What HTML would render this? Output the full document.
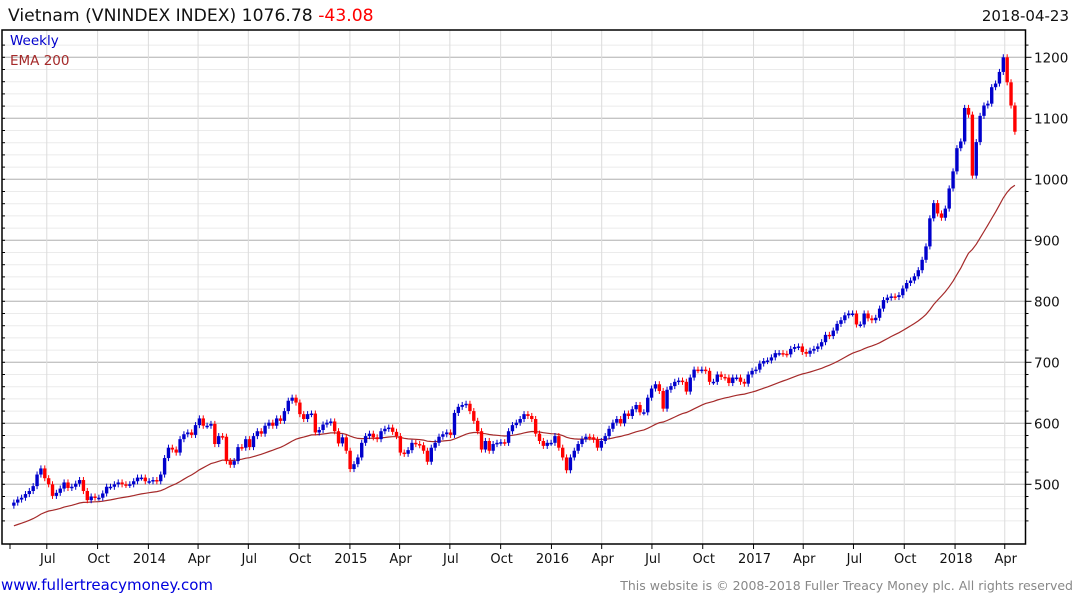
<!DOCTYPE html>
<html><head><meta charset="utf-8"><style>
html,body{margin:0;padding:0;background:#fff;}
svg{display:block;font-family:"DejaVu Sans","Liberation Sans",sans-serif;}
</style></head><body>
<svg id="chart" width="1075" height="600" viewBox="0 0 1075 600" xmlns="http://www.w3.org/2000/svg">
<text x="8" y="21" font-size="17.2" fill="#111">Vietnam (VNINDEX INDEX) 1076.78 <tspan fill="#ff0000">-43.08</tspan></text>
<text x="1069" y="21" font-size="15" fill="#111" text-anchor="end">2018-04-23</text>
<g id="grid"></g>
<g id="ema"></g>
<g id="candles"></g>
<g id="axes"></g>
<text x="10" y="45" font-size="13.5" fill="#0000cc">Weekly</text>
<text x="10" y="65" font-size="13.5" fill="#a52a2a">EMA 200</text>
<text x="1" y="590" font-size="15" fill="#0000dd">www.fullertreacymoney.com</text>
<text x="1073" y="590" font-size="12.5" fill="#888" text-anchor="end">This website is © 2008-2018 Fuller Treacy Money plc. All rights reserved</text>
</svg>
<script>
const closes = [470,475,478,484,489,497,516,526,510,500,481,486,493,503,494,496,501,507,489,474,480,478,478,485,496,496,500,503,500,499,500,505,511,511,505,505,507,505,516,543,560,557,552,574,582,585,581,597,608,596,596,599,566,579,578,538,532,538,561,560,574,561,579,587,583,596,601,596,608,604,620,637,642,634,615,607,615,616,585,589,598,601,603,587,567,577,555,525,533,544,
568,579,583,577,574,587,591,593,586,579,552,550,556,568,566,564,555,537,560,568,578,582,585,581,617,627,630,632,620,604,587,557,571,555,566,568,569,568,587,597,601,607,615,612,607,583,571,563,568,568,579,560,544,523,544,555,566,574,578,577,573,560,571,579,591,601,607,600,616,612,623,630,618,618,642,657,664,653,
624,655,661,668,670,668,652,675,688,687,688,686,668,668,680,676,675,666,675,675,668,665,680,686,688,698,702,703,708,715,715,714,713,722,725,726,717,714,719,722,726,733,745,743,752,763,769,777,780,780,762,762,780,772,769,773,788,802,806,808,807,810,821,830,834,
841,851,868,890,936,961,944,937,952,985,1013,1051,1062,1117,1106,1006,1061,1104,1121,1124,1151,1157,1176,1200,1159,1121,1078];
const yTicks = [500,600,700,800,900,1000,1100,1200];
const xTickLabels = ["Jul","Oct","2014","Apr","Jul","Oct","2015","Apr","Jul","Oct","2016","Apr","Jul","Oct","2017","Apr","Jul","Oct","2018","Apr"];
const xTickDates = ["2013-07-01","2013-10-01","2014-01-01","2014-04-01","2014-07-01","2014-10-01","2015-01-01","2015-04-01","2015-07-01","2015-10-01","2016-01-01","2016-04-01","2016-07-01","2016-10-01","2017-01-01","2017-04-01","2017-07-01","2017-10-01","2018-01-01","2018-04-01"];
const lastDate = "2018-04-23";
const emaSeed = 430;

const NS="http://www.w3.org/2000/svg";
const L=2, R=1025.5, T=30, B=544;
const D0=Date.parse("2013-04-29"), wk=3.865;
function xd(ms){return 10+(ms-D0)/86400000/7*wk;}
function y(v){return 179.3-(v-1000)*0.61;}
function mk(tag,attrs,parent){const e=document.createElementNS(NS,tag);for(const k in attrs)e.setAttribute(k,attrs[k]);parent.appendChild(e);return e;}
const grid=document.getElementById('grid'),axes=document.getElementById('axes'),cg=document.getElementById('candles'),eg=document.getElementById('ema');
for(let v=440;v<=1220;v+=20){
  const major=v%100===0;
  const ln=mk('line',{x1:L,x2:R,y1:y(v),y2:y(v),stroke:major?'#c4c4c4':'#ebebeb','stroke-width':major?1.3:1},grid);
  
  
}
xTickDates.forEach((d,i)=>{
  const x=xd(Date.parse(d))+2;
  const g=mk('line',{x1:x,x2:x,y1:T,y2:B,stroke:'#dcdcdc','stroke-width':1},grid);
  
  
  const t=mk('line',{x1:x,x2:x,y1:B,y2:B+5,stroke:'#000'},axes);
  
  
  const tx=mk('text',{x:x+1,y:563,'font-size':13,'text-anchor':'middle',fill:'#111'},axes);
  tx.textContent=xTickLabels[i];
  
  
});
const t0=mk('line',{x1:10,x2:10,y1:B,y2:B+5,stroke:'#000'},axes);


for(let v=440;v<=1220;v+=20){
  const major=v%100===0;
  const tk=mk('line',{x1:R,x2:R+(major?6:3),y1:y(v),y2:y(v),stroke:'#000'},axes);
  
  
  const tl=mk('line',{x1:L,x2:L+3,y1:y(v),y2:y(v),stroke:'#000'},axes);
  
  
}
yTicks.forEach(v=>{
  const t=mk('text',{x:1034,y:y(v)+5,'font-size':13.5,fill:'#111'},axes);
  t.textContent=v;
  
  
});
const fr=mk('path',{d:`M${L},${B} L${L},${T} L${R},${T} L${R},${B} Z`,fill:'none',stroke:'#000','stroke-width':1.5},axes);


const n=closes.length, endMs=Date.parse(lastDate);
const alpha=2/41; let ema=emaSeed; let pts=[];
for(let i=0;i<n;i++){
  const c=closes[i], o=i===0?c-5:closes[i-1];
  const x=xd(endMs-(n-1-i)*7*86400000);
  const hi=Math.max(o,c)+5, lo=Math.min(o,c)-5;
  const col=c>=o?'#0000cc':'#ff0000';
  const w=mk('line',{x1:x,x2:x,y1:y(hi),y2:y(lo),stroke:col,'stroke-width':1},cg);
  
  
  const top=y(Math.max(o,c)), h=Math.max(1.5,y(Math.min(o,c))-top);
  const b=mk('rect',{x:x-1.7,y:top,width:3.4,height:h,fill:col},cg);
  
  
  ema=ema+alpha*(c-ema);
  pts.push(x.toFixed(1)+','+y(ema).toFixed(1));
}
const pl=mk('polyline',{points:pts.join(' '),fill:'none',stroke:'#a52a2a','stroke-width':1.2},eg);


</script>
</body></html>
